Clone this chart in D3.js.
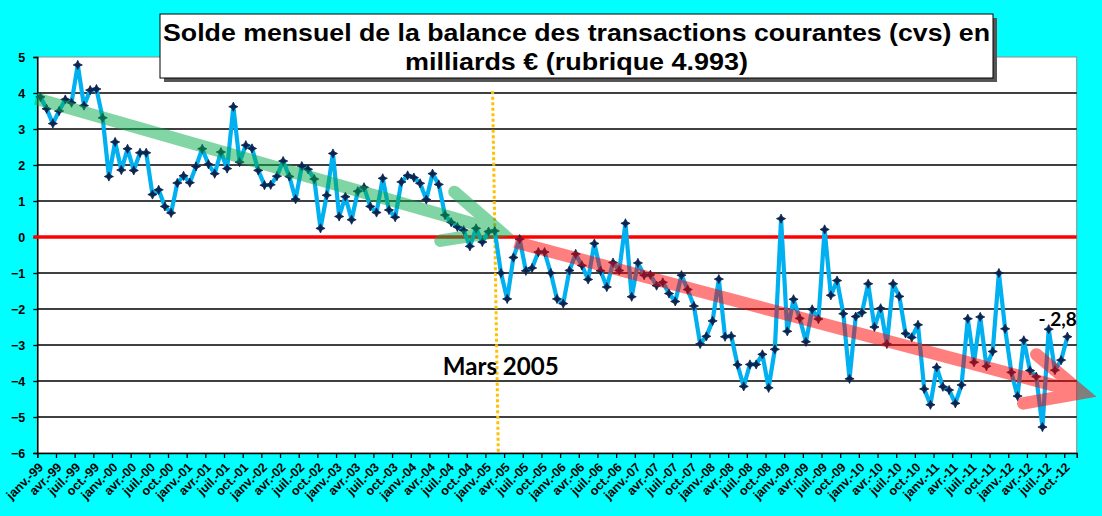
<!DOCTYPE html>
<html><head><meta charset="utf-8">
<script src="https://cdn.jsdelivr.net/npm/d3@7"></script>
<style>body{margin:0;background:#00ffff;overflow:hidden}svg{display:block}</style>
</head><body>
<svg id="c" width="1102" height="516"></svg>
<script>
// ---- data ----
const years = ["99","00","01","02","03","04","05","06","07","08","09","10","11","12"];
const monthNames = ["janv.","févr.","mars","avr.","mai","juin","juil.","août","sept.","oct.","nov.","déc."];
const categories = [];
years.forEach(y => monthNames.forEach(m => categories.push(m + "-" + y)));
categories.length = 167; // janv.-99 .. nov.-12
const values = [
 3.89,3.56,3.15,3.50,3.82,3.73,4.78,3.65,4.08,4.11,3.31,1.68,
 2.64,1.86,2.45,1.85,2.34,2.34,1.18,1.31,0.85,0.67,1.50,1.70,
 1.51,1.96,2.45,2.02,1.76,2.36,1.90,3.62,2.08,2.55,2.46,1.85,
 1.44,1.45,1.69,2.11,1.68,1.05,1.97,1.88,1.61,0.24,1.16,2.32,
 0.57,1.12,0.48,1.27,1.38,0.85,0.68,1.63,0.75,0.55,1.53,1.71,
 1.65,1.49,1.04,1.76,1.46,0.61,0.41,0.28,0.19,-0.26,0.24,-0.14,
 0.15,0.17,-1.00,-1.72,-0.57,-0.06,-0.94,-0.86,-0.42,-0.42,-1.00,-1.72,
 -1.85,-0.93,-0.47,-0.79,-1.18,-0.18,-0.94,-1.39,-0.71,-0.93,0.38,-1.66,
 -0.72,-1.06,-1.05,-1.35,-1.26,-1.57,-1.79,-1.06,-1.46,-1.92,-2.97,-2.76,
 -2.33,-1.17,-2.77,-2.75,-3.55,-4.15,-3.54,-3.54,-3.26,-4.19,-3.12,0.51,
 -2.62,-1.73,-2.26,-2.91,-2.01,-2.28,0.21,-1.62,-1.21,-2.13,-3.94,-2.21,
 -2.10,-1.30,-2.50,-1.98,-2.97,-1.30,-1.65,-2.68,-2.79,-2.44,-4.22,-4.66,
 -3.62,-4.16,-4.25,-4.62,-4.11,-2.27,-3.48,-2.22,-3.59,-3.18,-1.00,-2.55,
 -3.76,-4.42,-2.87,-3.71,-3.88,-5.28,-2.56,-3.70,-3.42,-2.77
];
const yTicks = [-6,-5,-4,-3,-2,-1,0,1,2,3,4,5];
const tickIndex = d3.range(0, 166, 3);
const tickLabels = tickIndex.map(i => categories[i]);
const titleLines = ["Solde mensuel de la balance des transactions courantes (cvs) en", "milliards € (rubrique 4.993)"];
const annotMarch = "Mars 2005";
const lastLabel = "- 2,8";
// trend arrows: [category position, value]
const greenArrow = {from:[-0.25, 3.85], to:[74.3, 0.16]};
const redArrow = {from:[76.75, -0.14], to:[167.9, -4.33]};

// ---- layout ----
const svg = d3.select("#c");
const L = 37.3, R = 1076.7, T = 57, B = 453;
const x = d3.scaleLinear().domain([0, categories.length]).range([L, R]);
const y = d3.scaleLinear().domain([-6, 5]).range([B, T]);
const F = "'Liberation Sans', Arial, sans-serif";

svg.append("rect").attr("width",1102).attr("height",516).attr("fill","#00ffff");
svg.append("rect").attr("x",L).attr("y",T).attr("width",R-L).attr("height",B-T)
  .attr("fill","#fff").attr("stroke","#8c8c8c").attr("stroke-width",1);

// grid
svg.append("g").selectAll("line").data(yTicks.filter(v => v > -6 && v < 5 && v !== 0)).join("line")
  .attr("x1",L).attr("x2",R).attr("y1",d=>y(d)).attr("y2",d=>y(d))
  .attr("stroke","#000").attr("stroke-width",1.3);

// y axis
const ya = svg.append("g").attr("transform",`translate(${L},0)`)
  .call(d3.axisLeft(y).tickValues(yTicks).tickSize(4).tickPadding(8).tickFormat(d3.format("d")));
ya.select(".domain").attr("stroke","#000").attr("stroke-width",1.5);
ya.selectAll(".tick line").attr("stroke","#000").attr("stroke-width",1.3);
ya.selectAll("text").attr("font-family",F).attr("font-weight","bold").attr("font-size",12.5).attr("fill","#000");

// x axis
const xa = svg.append("g").attr("transform",`translate(0,${B})`)
  .call(d3.axisBottom(x).tickValues(tickIndex).tickSize(5).tickFormat((d,i)=>tickLabels[i]));
xa.select(".domain").attr("stroke","#000").attr("stroke-width",1.5);
xa.selectAll(".tick line").attr("stroke","#000").attr("stroke-width",1.3);
xa.selectAll("text").attr("font-family",F).attr("font-weight","bold").attr("font-size",12.5).attr("fill","#000")
  .attr("text-anchor","end").attr("dy",0).attr("y",0)
  .attr("transform","translate(6,15) rotate(-45)");

// zero line
svg.append("line").attr("x1",L-4).attr("x2",R).attr("y1",y(0)).attr("y2",y(0))
  .attr("stroke","#ff0000").attr("stroke-width",3.5);

// dotted Mars 2005 line
svg.append("line").attr("x1",x(73.15)).attr("x2",x(74.07)).attr("y1",y(4.05)).attr("y2",B)
  .attr("stroke","#ffc000").attr("stroke-width",3).attr("stroke-dasharray","3,2.5");

// series line
const px = i => x(i + 0.5);
svg.append("path").datum(values)
  .attr("d", d3.line().x((d,i)=>px(i)).y(d=>y(d)))
  .attr("fill","none").attr("stroke","#00b0f0").attr("stroke-width",4.2).attr("stroke-linejoin","round");

// markers
const star = "M0,-4.6L1.5,-1.5L4.6,0L1.5,1.5L0,4.6L-1.5,1.5L-4.6,0L-1.5,-1.5Z";
svg.append("g").selectAll("path").data(values).join("path")
  .attr("d",star).attr("transform",(d,i)=>`translate(${px(i)},${y(d)})`)
  .attr("fill","#0c2550").attr("stroke","#0c2550").attr("stroke-width",0.8);

// arrows
function arrow(a, color){
  const s = [x(a.from[0]), y(a.from[1])], t = [x(a.to[0]), y(a.to[1])];
  const ang = Math.atan2(t[1]-s[1], t[0]-s[0]) + Math.PI;
  const len = 60, sp = 25*Math.PI/180;
  const w1 = [t[0]+len*Math.cos(ang+sp), t[1]+len*Math.sin(ang+sp)];
  const w2 = [t[0]+len*Math.cos(ang-sp), t[1]+len*Math.sin(ang-sp)];
  const g = svg.append("g").attr("opacity",0.5);
  g.append("path").attr("d",`M${s}L${t}`).attr("stroke",color).attr("stroke-width",12.5).attr("fill","none");
  g.append("path").attr("d",`M${w1}L${t}L${w2}`).attr("stroke",color).attr("stroke-width",12.5)
    .attr("fill","none").attr("stroke-linecap","round").attr("stroke-linejoin","miter");
}
arrow(greenArrow, "#05ab4b");
arrow(redArrow, "#ff0000");

// annotations
svg.append("text").attr("x",x(65.15)).attr("y",y(-3.83)).text(annotMarch)
  .attr("font-family","Lato, 'Open Sans', sans-serif").attr("font-weight","bold").attr("font-size",24)
  .attr("textLength",116).attr("lengthAdjust","spacingAndGlyphs").attr("fill","#000");
svg.append("text").attr("x",R).attr("y",y(-2.47)).attr("text-anchor","end").text(lastLabel)
  .attr("font-family","Lato, 'Open Sans', sans-serif").attr("font-weight","bold").attr("font-size",19).attr("fill","#000");

// title
const tb = {x:160, y:14, w:833, h:64};
svg.append("rect").attr("x",tb.x+4).attr("y",tb.y+4).attr("width",tb.w).attr("height",tb.h).attr("fill","#555");
svg.append("rect").attr("x",tb.x).attr("y",tb.y).attr("width",tb.w).attr("height",tb.h)
  .attr("fill","#fff").attr("stroke","#000").attr("stroke-width",1);
svg.append("text").attr("x",tb.x+tb.w/2).attr("y",41).attr("text-anchor","middle").text(titleLines[0])
  .attr("font-family",F).attr("font-weight","bold").attr("font-size",24)
  .attr("textLength",827).attr("lengthAdjust","spacingAndGlyphs");
svg.append("text").attr("x",tb.x+tb.w/2).attr("y",70).attr("text-anchor","middle").text(titleLines[1])
  .attr("font-family",F).attr("font-weight","bold").attr("font-size",24)
  .attr("textLength",343).attr("lengthAdjust","spacingAndGlyphs");
</script></body></html>
